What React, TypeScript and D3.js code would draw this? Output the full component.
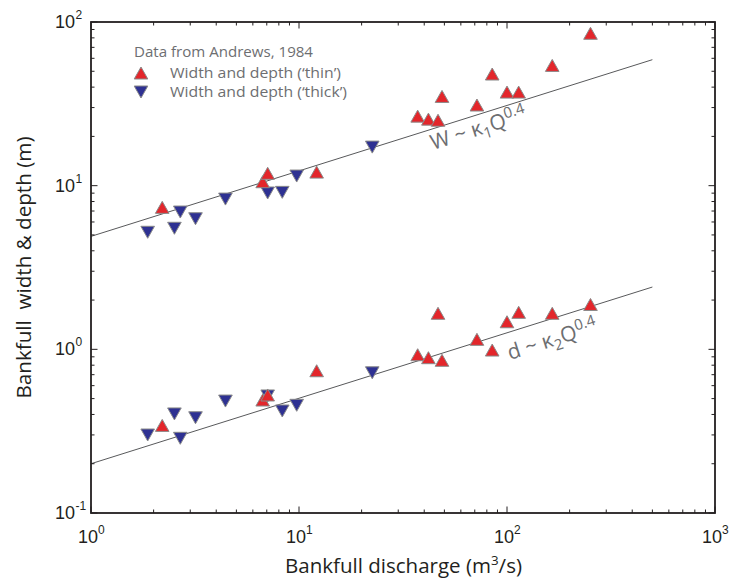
import React from "react";
import * as d3 from "d3";

// Discharge Q (m^3/s), width W (m), depth d (m) — "thin" series (red up triangles)
const thinQ = [2.2, 6.69, 7.07, 12.16, 37.2, 41.9, 46.6, 48.7, 71.7, 84.9, 100, 113.8, 165, 252];
const thinW = [7.37, 10.57, 11.9, 12.1, 26.6, 25.5, 25.1, 35.1, 31.1, 48.1, 37.3, 37.3, 54.3, 85.3];
const thinD = [0.343, 0.49, 0.526, 0.74, 0.927, 0.889, 1.66, 0.857, 1.151, 0.99, 1.474, 1.683, 1.66, 1.88];

// "thick" series (blue down triangles)
const thickQ = [1.873, 2.518, 2.687, 3.18, 4.43, 7.07, 8.31, 9.75, 22.5];
const thickW = [5.19, 5.49, 6.9, 6.28, 8.28, 9.02, 9.1, 11.45, 17.2];
const thickD = [0.2996, 0.403, 0.286, 0.382, 0.483, 0.519, 0.42, 0.455, 0.719];

// Power-law fit lines
const fitExponent = 0.4;
const k1 = 4.9;
const k2 = 0.2;
const fitQRange = [1, 500];

const xTickExps = [0, 1, 2, 3];
const yTickExps = [-1, 0, 1, 2];

const legendTitle = "Data from Andrews, 1984";
const legendThin = "Width and depth (\u2018thin\u2019)";
const legendThick = "Width and depth (\u2018thick\u2019)";

const RED = "#e3262b";
const BLUE = "#2e3192";
const MARK_STROKE = "#8a8a8a";
const GRAY_TEXT = "#6d6e71";
const INK = "#231f20";

const W = 732;
const H = 583;
const left = 91, right = 715, top = 22, bottom = 513;

const x = d3.scaleLog().domain([1, 1000]).range([left, right]);
const y = d3.scaleLog().domain([0.1, 100]).range([bottom, top]);

const upTri = "M0,-6L6.8,6L-6.8,6Z";
const downTri = "M0,6L6.8,-6L-6.8,-6Z";

function minorTicks(domain: [number, number]) {
  const out: { v: number; major: boolean }[] = [];
  for (let e = Math.log10(domain[0]); e <= Math.log10(domain[1]); e++) {
    const base = Math.pow(10, e);
    out.push({ v: base, major: true });
    if (base * 10 <= domain[1] * 1.0001) {
      for (let m = 2; m <= 9; m++) out.push({ v: base * m, major: false });
    }
  }
  return out;
}

export default function App() {
  const xt = minorTicks([1, 1000]);
  const yt = minorTicks([0.1, 100]);
  const maj = 6.5, min = 3.5;
  const fitLine = d3
    .line<number>()
    .x((q) => x(q))
    .y((q) => y(0));
  const lineW = d3.line<number>().x((q) => x(q)).y((q) => y(k1 * Math.pow(q, fitExponent)));
  const lineD = d3.line<number>().x((q) => x(q)).y((q) => y(k2 * Math.pow(q, fitExponent)));
  void fitLine;
  const angle = (Math.atan2(y(k1 * Math.pow(500, 0.4)) - y(k1), x(500) - x(1)) * 180) / Math.PI;

  const tickFont = "'Liberation Sans', Arial, sans-serif";
  const textFont = "'Open Sans', 'Noto Sans', sans-serif";

  return (
    <svg width={W} height={H} style={{ position: "absolute", left: 0, top: 0, background: "#fff" }}>
      {/* fit lines */}
      <path d={lineW(fitQRange) || ""} fill="none" stroke="#58595b" strokeWidth={1} />
      <path d={lineD(fitQRange) || ""} fill="none" stroke="#58595b" strokeWidth={1} />

      {/* equations */}
      <text
        transform={`translate(433,150) rotate(${angle})`}
        fontFamily={textFont}
        fontSize={21}
        fill={GRAY_TEXT}
      >
        W ~ κ<tspan fontSize={15} dy={5}>1</tspan>
        <tspan dy={-5}>Q</tspan>
        <tspan fontSize={15} dy={-8}>0.4</tspan>
      </text>
      <text
        transform={`translate(510,360) rotate(${angle})`}
        fontFamily={textFont}
        fontSize={21}
        fill={GRAY_TEXT}
      >
        d ~ κ<tspan fontSize={15} dy={5}>2</tspan>
        <tspan dy={-5}>Q</tspan>
        <tspan fontSize={15} dy={-8}>0.4</tspan>
      </text>

      {/* thick (blue) markers */}
      {thickQ.map((q, i) => (
        <path key={"tw" + i} d={downTri} transform={`translate(${x(q)},${y(thickW[i])})`} fill={BLUE} stroke={MARK_STROKE} strokeWidth={1} />
      ))}
      {thickQ.map((q, i) => (
        <path key={"td" + i} d={downTri} transform={`translate(${x(q)},${y(thickD[i])})`} fill={BLUE} stroke={MARK_STROKE} strokeWidth={1} />
      ))}
      {/* thin (red) markers */}
      {thinQ.map((q, i) => (
        <path key={"rw" + i} d={upTri} transform={`translate(${x(q)},${y(thinW[i])})`} fill={RED} stroke={MARK_STROKE} strokeWidth={1} />
      ))}
      {thinQ.map((q, i) => (
        <path key={"rd" + i} d={upTri} transform={`translate(${x(q)},${y(thinD[i])})`} fill={RED} stroke={MARK_STROKE} strokeWidth={1} />
      ))}

      {/* legend */}
      <text x={134} y={57} fontFamily={textFont} fontSize={14} fill={GRAY_TEXT} textLength={179} lengthAdjust="spacingAndGlyphs">
        {legendTitle}
      </text>
      <path d={upTri} transform="translate(141,73)" fill={RED} stroke={MARK_STROKE} strokeWidth={1} />
      <text x={170} y={78} fontFamily={textFont} fontSize={14} fill={GRAY_TEXT} textLength={171} lengthAdjust="spacingAndGlyphs">
        {legendThin}
      </text>
      <path d={downTri} transform="translate(141,92)" fill={BLUE} stroke={MARK_STROKE} strokeWidth={1} />
      <text x={170} y={97} fontFamily={textFont} fontSize={14} fill={GRAY_TEXT} textLength={177} lengthAdjust="spacingAndGlyphs">
        {legendThick}
      </text>

      {/* ticks */}
      <g stroke={INK} strokeWidth={1}>
        {xt.map((t, i) => {
          const px = x(t.v);
          const len = t.major ? maj : min;
          return (
            <g key={"xt" + i}>
              <line x1={px} x2={px} y1={bottom} y2={bottom - len} />
              <line x1={px} x2={px} y1={top} y2={top + len} />
            </g>
          );
        })}
        {yt.map((t, i) => {
          const py = y(t.v);
          const len = t.major ? maj : min;
          return (
            <g key={"yt" + i}>
              <line x1={left} x2={left + len} y1={py} y2={py} />
              <line x1={right} x2={right - len} y1={py} y2={py} />
            </g>
          );
        })}
      </g>

      {/* frame */}
      <rect x={left} y={top} width={right - left} height={bottom - top} fill="none" stroke={INK} strokeWidth={1.8} />

      {/* x tick labels */}
      {xTickExps.map((e) => (
        <g key={"xl" + e}>
          <text x={x(Math.pow(10, e)) - 3} y={543} textAnchor="middle" fontFamily={tickFont} fontSize={18} fill={INK}>
            10
          </text>
          <text x={x(Math.pow(10, e)) + 7} y={534} fontFamily={tickFont} fontSize={12} fill={INK}>
            {String(e)}
          </text>
        </g>
      ))}

      {/* y tick labels */}
      {yTickExps.map((e) => (
        <g key={"yl" + e}>
          <text x={75} y={y(Math.pow(10, e)) + 6} textAnchor="end" fontFamily={tickFont} fontSize={18} fill={INK}>
            10
          </text>
          <text x={75.5} y={y(Math.pow(10, e)) - 3} fontFamily={tickFont} fontSize={12} fill={INK}>
            {e < 0 ? "-" + String(-e) : String(e)}
          </text>
        </g>
      ))}

      {/* axis titles */}
      <text x={403.5} y={573} textAnchor="middle" fontFamily={textFont} fontSize={20} fill={INK} textLength={237} lengthAdjust="spacingAndGlyphs">
        Bankfull discharge (m<tspan fontSize={13} dy={-8}>3</tspan>
        <tspan dy={8}>/s)</tspan>
      </text>
      <text
        transform={`translate(31,${(top + bottom) / 2}) rotate(-90)`}
        textAnchor="middle"
        fontFamily={textFont}
        fontSize={20}
        fill={INK}
        textLength={262}
        lengthAdjust="spacingAndGlyphs"
        style={{ whiteSpace: "pre" }}
      >
        {"Bankfull  width & depth (m)"}
      </text>
    </svg>
  );
}
